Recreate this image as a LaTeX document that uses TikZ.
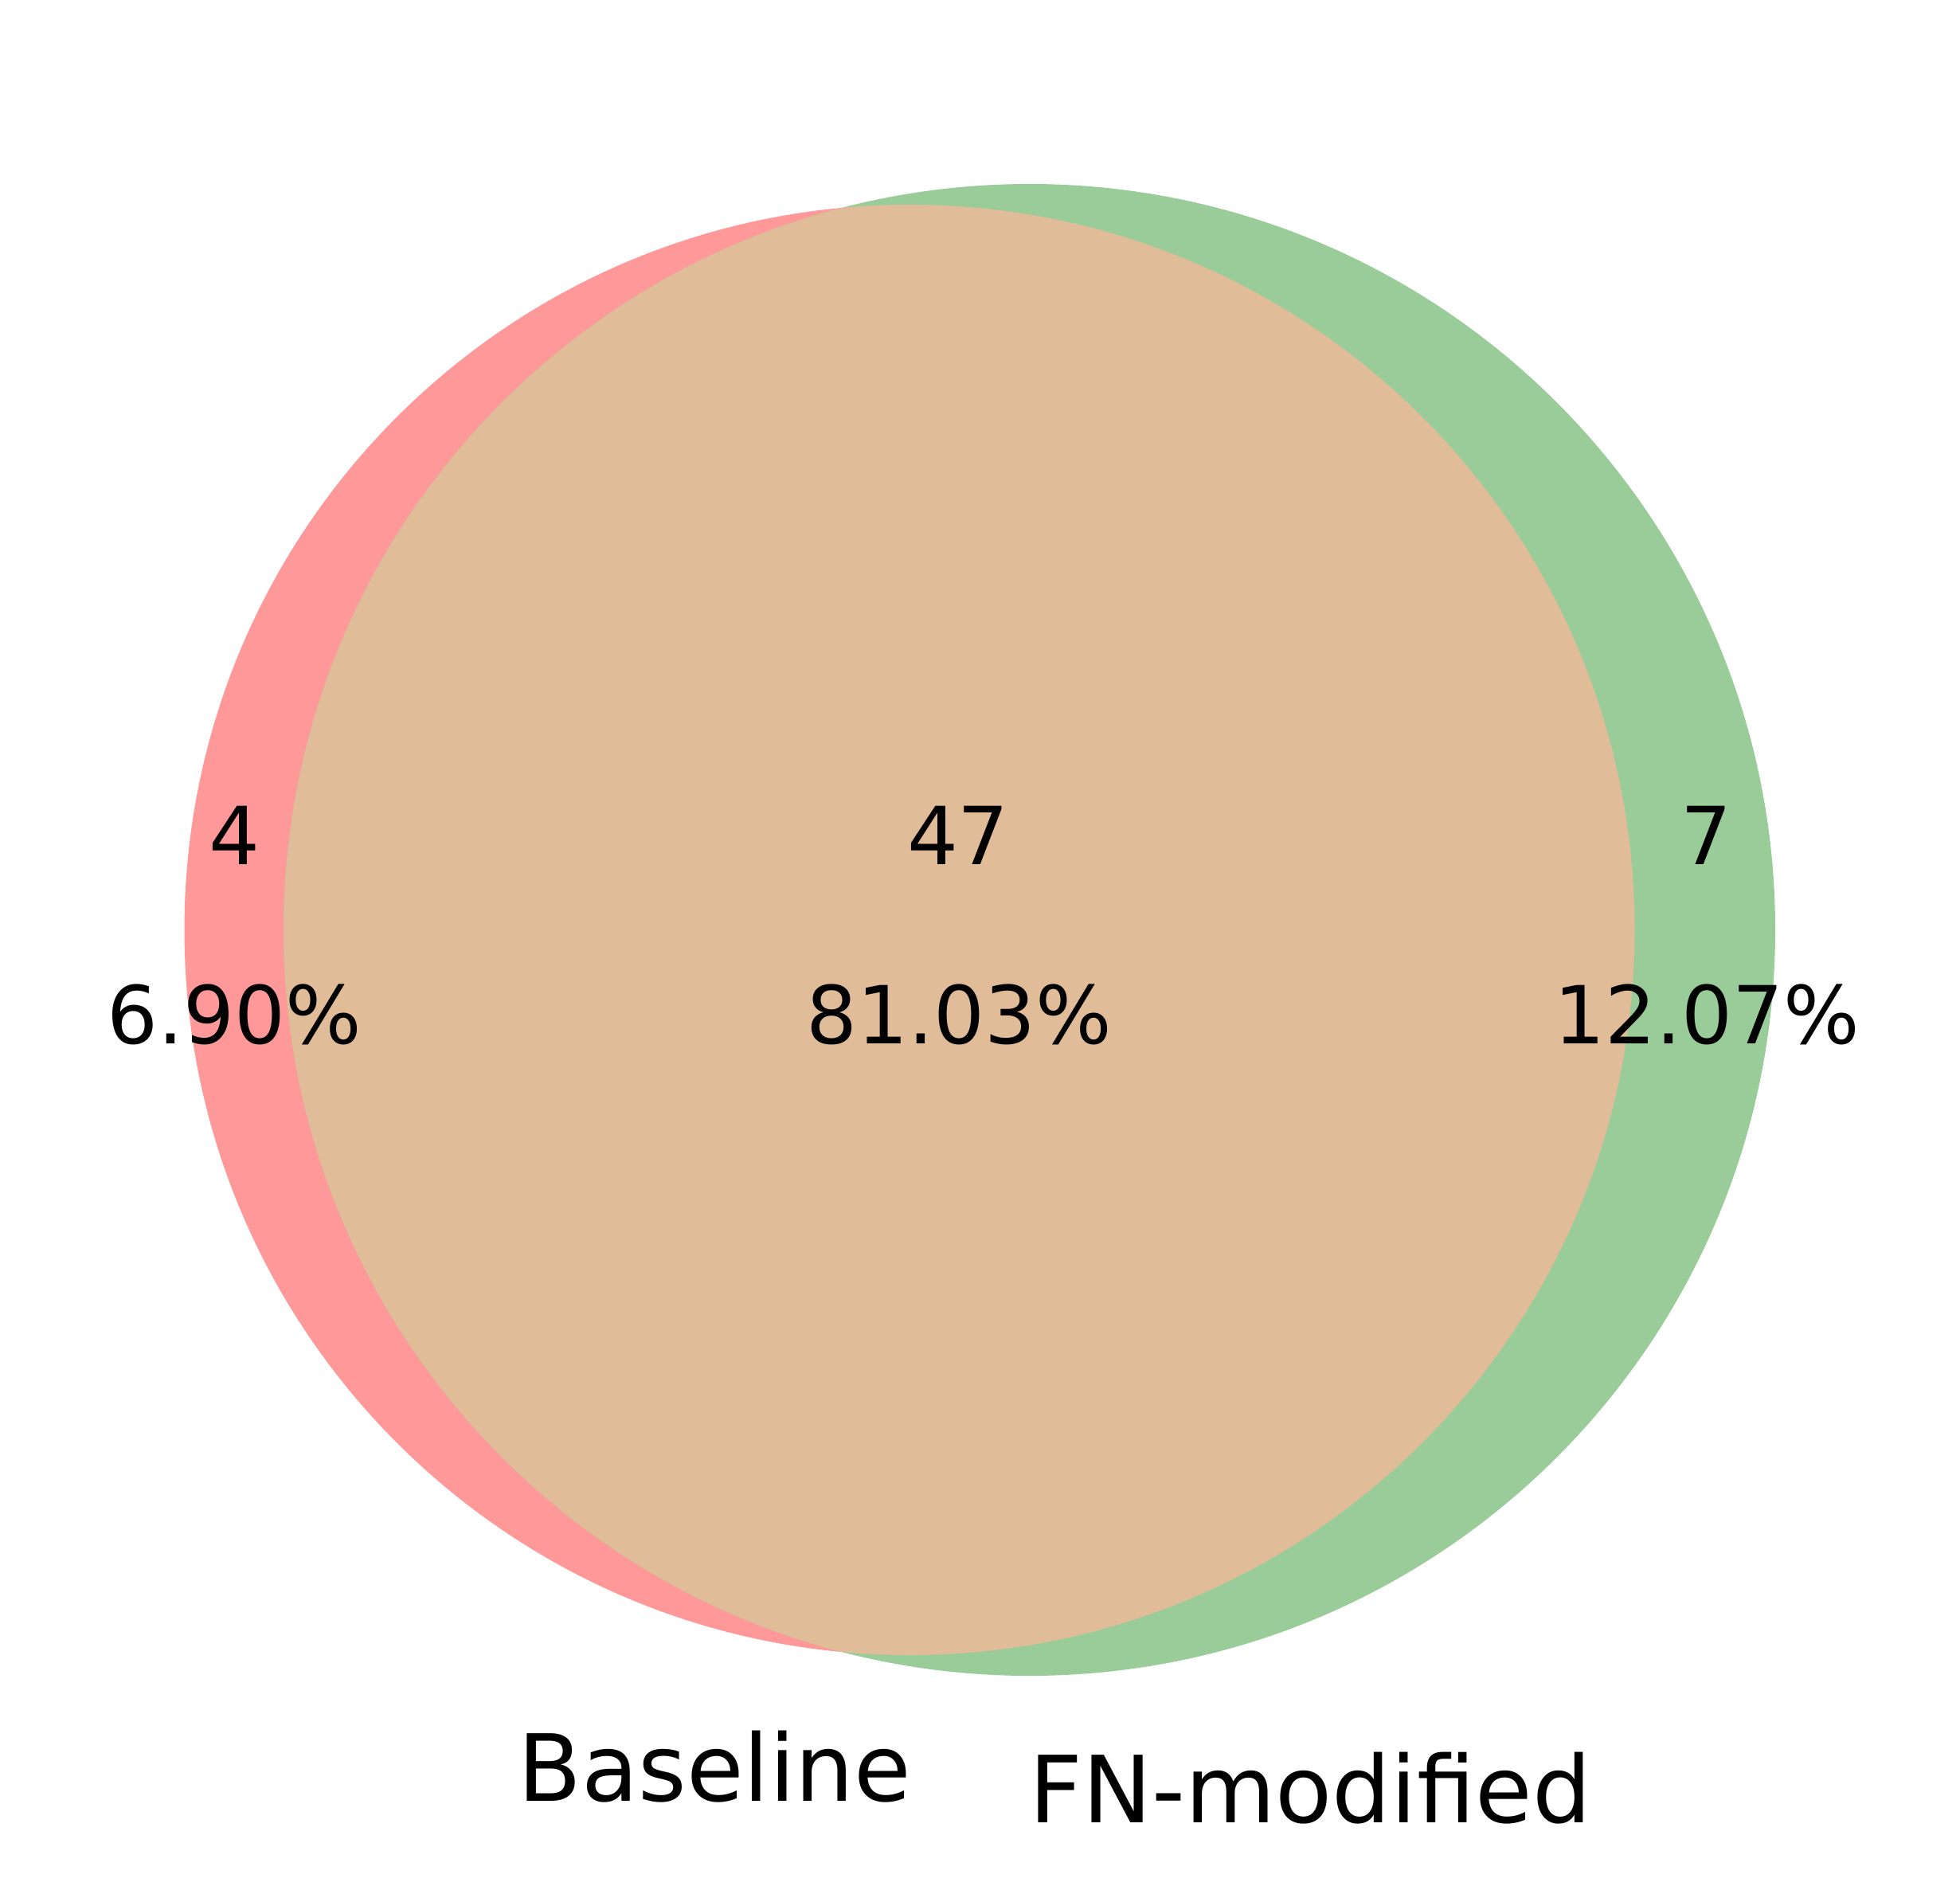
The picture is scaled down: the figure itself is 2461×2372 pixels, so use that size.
\documentclass[tikz,border=0pt]{standalone}
\usepackage{fontspec}
\setmainfont{DejaVu Sans}
\definecolor{setA}{RGB}{255,153,153}
\definecolor{setB}{RGB}{154,204,154}
\definecolor{setAB}{RGB}{224,188,152}
\begin{document}
\begin{tikzpicture}[x=0.01cm,y=-0.01cm,
  num/.style={anchor=base,inner sep=0pt,font=\fontsize{28.6}{34}\selectfont},
  setlabel/.style={anchor=base,inner sep=0pt,font=\fontsize{33.1}{40}\selectfont}]
\fill[white] (0,0) rectangle (2461,2372);
\useasboundingbox (0,0) rectangle (2461,2372);
% circles
\coordinate (cA) at (1142,1167.5);
\coordinate (cB) at (1292.5,1167.5);
\fill[setA] (cA) circle[radius=910.5];
\fill[setB] (cB) circle[radius=936.5];
\begin{scope}
  \clip (cA) circle[radius=910.5];
  \fill[setAB] (cB) circle[radius=936.5];
\end{scope}
% region labels
\node[num] (n10) at (294,1085) {4};
\node[num] (p10) at (294,1310) {6.90\%};
\node[num] (n11) at (1203,1085) {47};
\node[num] (p11) at (1204,1310) {81.03\%};
\node[num] (n01) at (2142,1085) {7};
\node[num] (p01) at (2143,1310) {12.07\%};
% set labels
\node[setlabel] (lA) at (897,2261) {Baseline};
\node[setlabel] (lB) at (1645,2288) {FN-modified};
\end{tikzpicture}
\end{document}
